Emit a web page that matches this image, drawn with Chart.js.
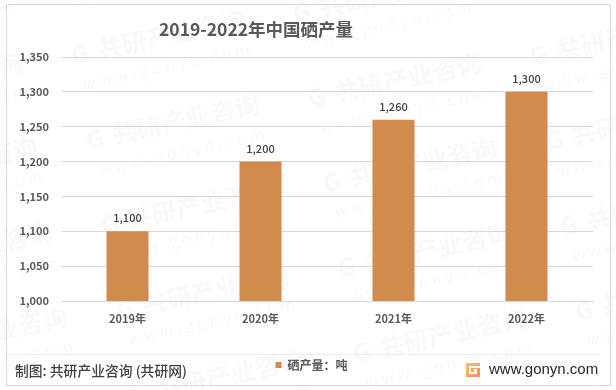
<!DOCTYPE html>
<html>
<head>
<meta charset="utf-8">
<script src="https://cdn.jsdelivr.net/npm/chart.js@4"></script>
<style>
    html, body { margin: 0; padding: 0; background: #fff; }
    #wrap { position: relative; width: 616px; height: 390px; }
</style>
</head>
<body>
<div id="wrap"><canvas id="chart" width="616" height="390"></canvas></div>
<script>
var categories = ['2019年', '2020年', '2021年', '2022年'];
var seleniumOutput = [1100, 1200, 1260, 1300];
var yTicks = [1000, 1050, 1100, 1150, 1200, 1250, 1300, 1350];
var seriesName = '硒产量：吨';
var titleText = '2019-2022年中国硒产量';
var sourceText = '制图: 共研产业咨询 (共研网)';
var siteText = 'www.gonyn.com';
var markText = '共研产业咨询';
var markSite = 'w w w . g o n y n . c o m';

var cjk = '"Noto Sans CJK SC", "Noto Sans", sans-serif';

function drawMark(ctx, x, y) {
    ctx.save();
    ctx.translate(x, y);
    ctx.rotate(-0.21);
    ctx.fillStyle = 'rgba(0,0,0,0.025)';
    ctx.font = '900 25px ' + cjk;
    ctx.textBaseline = 'alphabetic';
    ctx.fillText('G', 0, 0);
    ctx.fillText(markText, 27, 0);
    ctx.fillStyle = 'rgba(0,0,0,0.03)';
    ctx.font = '16px ' + cjk;
    ctx.fillText(markSite, 6, 27);
    ctx.restore();
}

var pagePlugin = {
    id: 'page',
    afterLayout: function (chart) {
        // legend sits a little right of the middle of the plot
        chart.legend.left += 12;
        chart.legend.right += 12;
    },
    beforeDraw: function (chart) {
        var ctx = chart.ctx;
        ctx.save();
        ctx.fillStyle = '#fff';
        ctx.fillRect(0, 0, 616, 390);
        // watermark grid
        for (var col = -1; col < 4; col++) {
            for (var row = -1; row < 5; row++) {
                drawMark(ctx, 73 + col * 237 + row * 15, 65 + col * 43 + row * 85);
            }
        }
        ctx.strokeStyle = '#d9d9d9';
        ctx.lineWidth = 1;
        ctx.strokeRect(6.5, 4.5, 604, 381);
        ctx.strokeStyle = '#ececec';
        ctx.beginPath();
        ctx.moveTo(7, 354.5);
        ctx.lineTo(599, 354.5);
        ctx.stroke();
        ctx.restore();
    },
    afterDraw: function (chart) {
        var ctx = chart.ctx;
        ctx.save();
        ctx.textBaseline = 'middle';
        ctx.textAlign = 'left';

        ctx.fillStyle = '#595959';
        ctx.font = 'bold 17.5px ' + cjk;
        ctx.fillText(titleText, 159, 29);

        // value labels above the bars
        ctx.textAlign = 'center';
        ctx.fillStyle = '#404040';
        ctx.font = '500 11px ' + cjk;
        chart.getDatasetMeta(0).data.forEach(function (bar, i) {
            ctx.fillText(seleniumOutput[i].toLocaleString('en-US'), bar.x, bar.y - 13);
        });

        ctx.textAlign = 'left';
        ctx.fillStyle = '#404040';
        ctx.font = '500 13.8px ' + cjk;
        ctx.fillText(sourceText, 15, 371);

        // site logo
        var grad = ctx.createLinearGradient(466, 363, 480, 377);
        grad.addColorStop(0, '#fbc65c');
        grad.addColorStop(1, '#f58a6a');
        ctx.fillStyle = grad;
        ctx.fillRect(466, 363, 14, 14);
        ctx.fillStyle = '#fff';
        ctx.fillRect(469, 366, 11, 2);
        ctx.fillRect(469, 366, 2, 8);
        ctx.fillRect(469, 372, 8, 2);
        ctx.fillRect(474, 369, 3, 4);

        ctx.fillStyle = '#262626';
        ctx.font = '15px "Liberation Sans", sans-serif';
        ctx.fillText(siteText, 489, 370);
        ctx.restore();
    }
};

var chart = new Chart(
    document.getElementById('chart'),
    {
        type: 'bar',
        data: {
            labels: categories,
            datasets: [{
                label: seriesName,
                backgroundColor: '#D28B4E',
                borderWidth: 0,
                data: seleniumOutput,
                categoryPercentage: 1,
                barPercentage: 0.316
            }]
        },
        plugins: [pagePlugin],
        options: {
            responsive: false,
            animation: false,
            layout: {
                padding: { left: 6, right: 23, top: 57, bottom: 9 }
            },
            scales: {
                y: {
                    min: 1000,
                    max: 1350,
                    afterFit: function (axis) { axis.width = 55; },
                    afterBuildTicks: function (axis) {
                        axis.ticks = yTicks.map(function (v) { return { value: v }; });
                    },
                    border: { display: false },
                    grid: { color: '#d9d9d9', drawTicks: false },
                    ticks: {
                        padding: 12,
                        color: '#595959',
                        font: { family: cjk, size: 11, weight: 'bold' },
                        callback: function (v) { return v.toLocaleString('en-US'); }
                    }
                },
                x: {
                    border: { color: '#d9d9d9' },
                    grid: { display: false, drawTicks: false },
                    afterFit: function (axis) { axis.height = 56; },
                    ticks: {
                        padding: 11,
                        color: '#595959',
                        font: { family: cjk, size: 11, weight: 'bold' },
                        maxRotation: 0,
                        minRotation: 0
                    }
                }
            },
            plugins: {
                title: { display: false },
                tooltip: { enabled: false },
                legend: {
                    position: 'bottom',
                    labels: {
                        boxWidth: 6,
                        boxHeight: 6,
                        padding: 2,
                        color: '#595959',
                        font: { family: cjk, size: 12, weight: 'bold' }
                    }
                }
            }
        }
    }
);
</script>
</body>
</html>
